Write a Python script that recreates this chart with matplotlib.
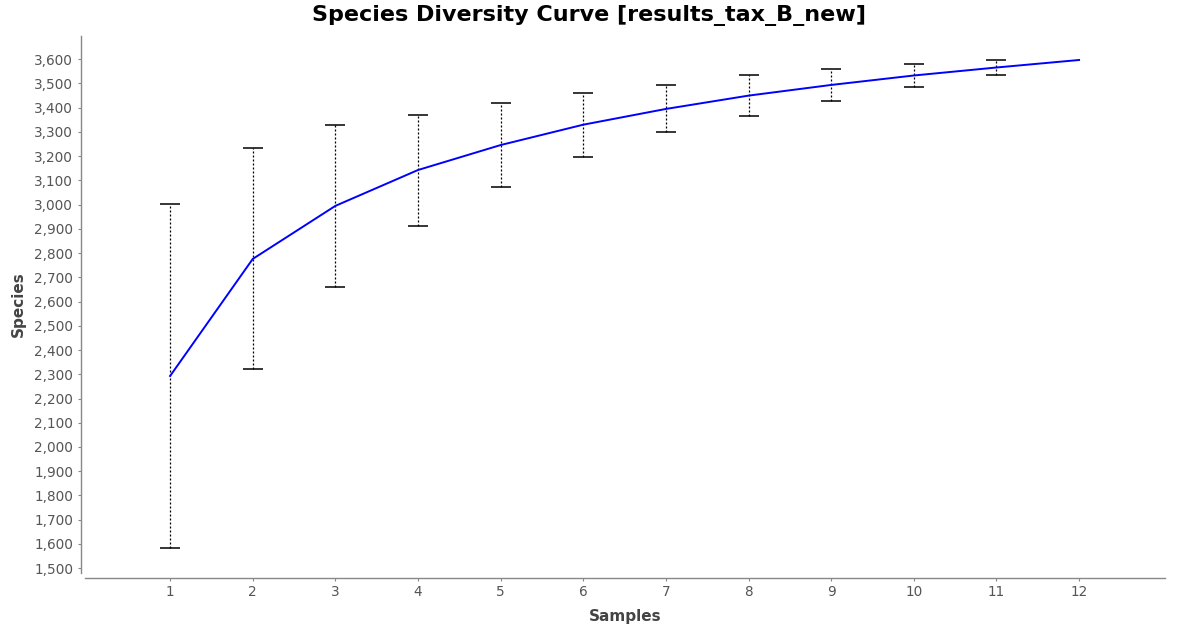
import matplotlib.pyplot as plt

samples = [1, 2, 3, 4, 5, 6, 7, 8, 9, 10, 11, 12]
species_mean = [2293, 2776, 2995, 3143, 3246, 3330, 3395, 3450, 3494, 3533, 3566, 3597]
species_sd = [711, 456, 335, 229, 175, 132, 97, 83, 66, 47, 31, 0]
yticks = list(range(1500, 3601, 100))

fig = plt.figure(figsize=(11.77, 6.3), dpi=100)
ax = fig.add_axes([85 / 1177, 57 / 630, 1080 / 1177, 537 / 630])

# error bars (no bar at the last point)
eb = ax.errorbar(samples[:-1], species_mean[:-1], yerr=species_sd[:-1], fmt='none',
                 ecolor='black', elinewidth=0.9, capsize=7.2, capthick=1.1, zorder=2)
eb[2][0].set_linestyle((0, (1.6, 1.6)))

ax.plot(samples, species_mean, color='#0000ff', linewidth=1.4, zorder=3)

ax.set_xlim(-0.03, 13.04)
ax.set_ylim(1480, 3696)
ax.set_xticks(samples)
ax.set_yticks(yticks)
ax.set_yticklabels([f"{v:,}" for v in yticks])

grey = '#888888'
for s in ['top', 'right']:
    ax.spines[s].set_visible(False)
for s in ['left', 'bottom']:
    ax.spines[s].set_color(grey)
    ax.spines[s].set_linewidth(1.0)
ax.spines['left'].set_position(('outward', 3))
ax.spines['bottom'].set_position(('outward', 3.3))
ax.tick_params(axis='both', colors=grey, length=2.5, width=0.8, labelsize=9.8,
               labelcolor='#555555', pad=3)

ax.set_xlabel("Samples", fontsize=11, fontweight='bold', color='#444444', labelpad=7)
ax.set_ylabel("Species", fontsize=11, fontweight='bold', color='#444444', labelpad=6)
fig.text(0.5, 1 - 15 / 630, "Species Diversity Curve [results_tax_B_new]",
         ha='center', va='center', fontsize=16, fontweight='bold', color='black')

fig.savefig("out.png", dpi=100)
